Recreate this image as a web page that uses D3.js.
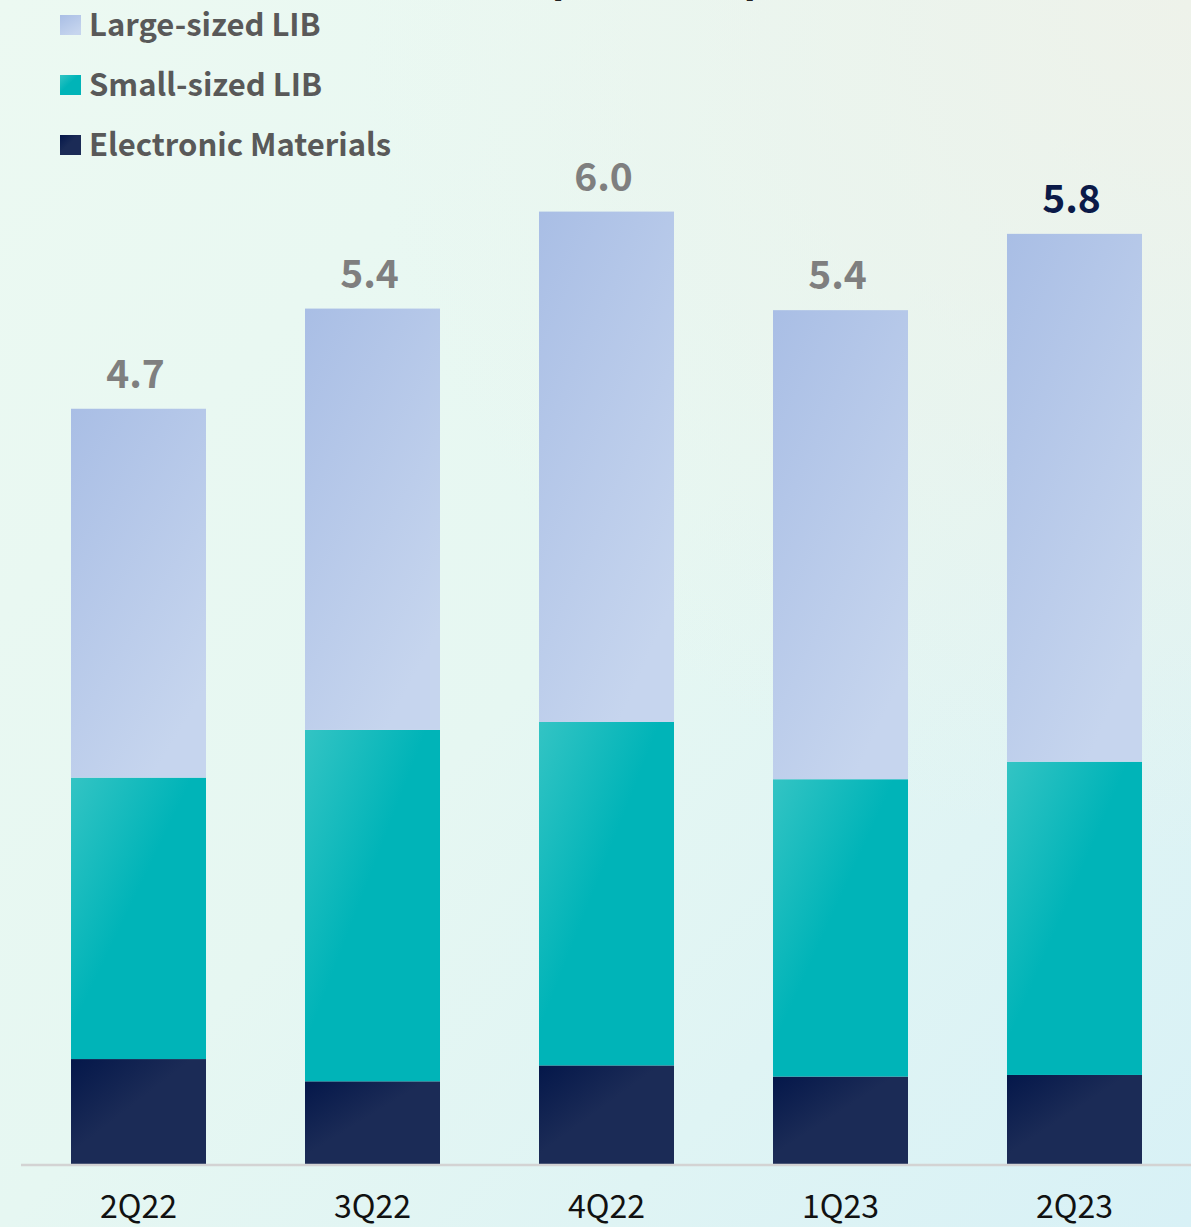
<!DOCTYPE html>
<html>
<head>
<meta charset="utf-8">
<script src="https://cdn.jsdelivr.net/npm/d3@7"></script>
<style>
  body { margin: 0; padding: 0; overflow: hidden; }
  svg { display: block; }
</style>
</head>
<body>
<div id="chart"></div>
<script>
// chart data
var quarters = ["2Q22", "3Q22", "4Q22", "1Q23", "2Q23"];
var electronic = [0.66, 0.52, 0.62, 0.55, 0.56];
var smallLIB = [1.77, 2.21, 2.16, 1.87, 1.97];
var largeLIB = [2.32, 2.65, 3.21, 2.95, 3.32];
var totals = ["4.7", "5.4", "6.0", "5.4", "5.8"];
var seriesNames = ["Large-sized LIB", "Small-sized LIB", "Electronic Materials"];
var unitText = "[Unit: KRW trillion]";

var svgWidth = 1191;
var svgHeight = 1227;

var svg = d3.select("#chart")
  .append("svg")
  .attr("width", svgWidth)
  .attr("height", svgHeight);

var defs = svg.append("defs");

// background
var bg = defs.append("linearGradient").attr("id", "bg")
  .attr("x1", "0").attr("y1", "0").attr("x2", "1").attr("y2", "1");
bg.append("stop").attr("offset", "0%").attr("stop-color", "#ecf9f2");
bg.append("stop").attr("offset", "50%").attr("stop-color", "#e6f7f2");
bg.append("stop").attr("offset", "100%").attr("stop-color", "#d8f1f6");
svg.append("rect").attr("width", svgWidth).attr("height", svgHeight).attr("fill", "url(#bg)");

var bgTR = defs.append("radialGradient").attr("id", "bgTR")
  .attr("cx", "1").attr("cy", "0").attr("r", "0.7");
bgTR.append("stop").attr("offset", "0%").attr("stop-color", "#eef2ea").attr("stop-opacity", 1);
bgTR.append("stop").attr("offset", "100%").attr("stop-color", "#eef2ea").attr("stop-opacity", 0);
svg.append("rect").attr("width", svgWidth).attr("height", svgHeight).attr("fill", "url(#bgTR)");

// gradients for bar segments
function makeGrad(id, c1, c2, mid) {
  var g = defs.append("linearGradient").attr("id", id)
    .attr("x1", "0").attr("y1", "0").attr("x2", "1").attr("y2", "1");
  g.append("stop").attr("offset", "0%").attr("stop-color", c1);
  g.append("stop").attr("offset", mid).attr("stop-color", c2);
  g.append("stop").attr("offset", "100%").attr("stop-color", c2);
}
defs.append("linearGradient").attr("id", "gLarge")
  .attr("x1", "0").attr("y1", "0").attr("x2", "0.6").attr("y2", "1")
  .call(function(g) {
    g.append("stop").attr("offset", "0%").attr("stop-color", "#a9bee5");
    g.append("stop").attr("offset", "100%").attr("stop-color", "#c6d5ee");
  });
makeGrad("gSmall", "#33c4c4", "#00b4b8", "45%");
makeGrad("gElec", "#04174a", "#1b2b56", "45%");

var colors = ["url(#gLarge)", "url(#gSmall)", "url(#gElec)"];

// scales
var baseline = 1164;
var xScale = d3.scaleBand()
  .domain(quarters)
  .range([0.8, 1212.2])
  .paddingInner(99 / 234)
  .paddingOuter(0.3);

var yScale = d3.scaleLinear()
  .domain([0, 6])
  .range([baseline, baseline - 6 * 159]);

// stack data
var rows = quarters.map(function(q, i) {
  return { q: q, elec: electronic[i], small: smallLIB[i], large: largeLIB[i] };
});
var stack = d3.stack().keys(["elec", "small", "large"]);
var layers = stack(rows);
var layerFill = { elec: colors[2], small: colors[1], large: colors[0] };

svg.selectAll("g.layer")
  .data(layers)
  .enter()
  .append("g")
  .attr("class", "layer")
  .attr("fill", function(d) { return layerFill[d.key]; })
  .selectAll("rect")
  .data(function(d) { return d; })
  .enter()
  .append("rect")
  .attr("x", function(d) { return xScale(d.data.q); })
  .attr("width", xScale.bandwidth())
  .attr("y", function(d) { return yScale(d[1]); })
  .attr("height", function(d) { return yScale(d[0]) - yScale(d[1]); });

// baseline axis
var xAxis = d3.axisBottom(xScale).tickSize(0);
var axisG = svg.append("g")
  .attr("transform", "translate(0," + (baseline + 1) + ")")
  .call(xAxis);
axisG.select(".domain")
  .attr("d", "M21,0H1191")
  .attr("stroke", "#d3d3d3")
  .attr("stroke-width", 2.5);
axisG.selectAll("text")
  .attr("font-family", "'Noto Sans CJK KR', 'Noto Sans', sans-serif")
  .attr("font-size", "32px")
  .attr("fill", "#111111")
  .attr("dy", "0")
  .attr("y", 53);

// total labels
svg.selectAll("text.total")
  .data(rows)
  .enter()
  .append("text")
  .attr("class", "total")
  .attr("x", function(d) { return xScale(d.q) + xScale.bandwidth() / 2 - 3; })
  .attr("y", function(d) { return yScale(d.elec + d.small + d.large) - 21; })
  .attr("text-anchor", "middle")
  .attr("font-family", "'Noto Sans CJK KR', 'Noto Sans', sans-serif")
  .attr("font-weight", "bold")
  .attr("font-size", "39px")
  .attr("fill", function(d, i) { return i === quarters.length - 1 ? "#0b1a48" : "#7f7f7f"; })
  .text(function(d, i) { return totals[i]; });

// legend
var legend = svg.selectAll("g.legend")
  .data(seriesNames)
  .enter()
  .append("g")
  .attr("class", "legend")
  .attr("transform", function(d, i) { return "translate(60," + (15 + i * 60) + ")"; });

legend.append("rect")
  .attr("width", 21)
  .attr("height", 20)
  .attr("fill", function(d, i) { return colors[i]; });

legend.append("text")
  .attr("x", 29)
  .attr("y", 21)
  .attr("font-family", "'Noto Sans CJK KR', 'Noto Sans', sans-serif")
  .attr("font-weight", "bold")
  .attr("font-size", "31px")
  .attr("fill", "#595959")
  .text(function(d) { return d; });

// unit line, mostly above the top edge
svg.append("text")
  .attr("x", 552)
  .attr("y", -4)
  .attr("font-family", "'Noto Sans CJK KR', 'Noto Sans', sans-serif")
  .attr("font-size", "30px")
  .attr("fill", "#222222")
  .attr("textLength", 204)
  .text(unitText);
</script>
</body>
</html>
